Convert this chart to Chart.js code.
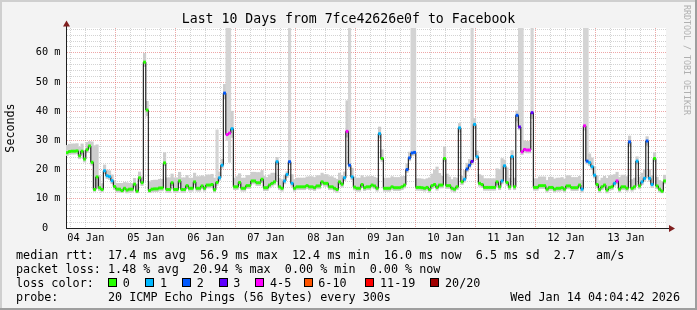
<!DOCTYPE html>
<html>
<head>
<meta charset="utf-8">
<script src="https://cdn.jsdelivr.net/npm/chart.js@4.4.1/dist/chart.umd.min.js"></script>
<style>
html,body{margin:0;padding:0;background:#f3f3f3;}
canvas{display:block;}
</style>
</head>
<body>
<canvas id="c" width="697" height="310"></canvas>
<script>
// ---------------- data ----------------
const chartTitle = 'Last 10 Days from 7fce42626e0f to Facebook';
const yAxisTitle = 'Seconds';
// time axis in hours after 04 Jan 00:00
const rangeStart = 4.07;          // 04 Jan 04:04
const rangeEnd = 244.07;          // 14 Jan 04:04
const firstSample = 4.5;          // centre of first hourly sample
const sampleStep = 1;             // hours per sample
const dayLabels = ['04 Jan','05 Jan','06 Jan','07 Jan','08 Jan','09 Jan','10 Jan','11 Jan','12 Jan','13 Jan'];
const yTickValues = [0,2,4,6,8,10,12,14,16,18,20,22,24,26,28,30,32,34,36,38,40,42,44,46,48,50,52,54,56,58,60,62,64,66,68];
const yMax = 68.5;

// median rtt (ms), hourly
const median = [
25.8,26.2,26.3,26.3,26.4,24.7,26.3,23.6,26.8,28.1,22.5,13.2,17.5,13.8,13.2,19.6,17.9,17.6,16.2,14.2,
13.3,13.3,12.8,13.6,13.0,13.3,13.3,15.0,12.6,17.2,15.5,56.8,40.4,12.8,13.3,13.4,13.4,13.7,13.7,22.3,
13.2,13.2,15.5,13.2,13.2,16.1,13.2,13.2,14.5,13.6,13.6,15.8,13.6,13.6,14.4,13.6,14.7,14.7,14.9,13.1,
15.6,17.2,21.5,46.2,32.0,32.5,34.0,14.1,14.1,15.6,13.6,13.6,14.5,14.5,16.1,16.1,15.5,15.5,16.7,13.8,
13.8,14.7,15.3,15.8,22.7,14.1,13.6,16.1,18.3,22.7,15.3,13.6,14.1,14.1,14.1,14.1,14.5,14.1,14.1,13.8,
14.4,14.4,15.8,15.3,15.3,14.1,14.1,13.6,13.2,15.8,15.0,17.2,33.1,21.5,17.5,14.0,13.6,13.6,14.9,13.8,
14.1,14.1,14.7,14.4,13.6,32.3,23.8,13.6,13.6,13.6,14.1,13.8,13.8,13.8,14.1,14.7,20.0,24.0,25.7,25.9,
13.9,13.9,13.8,13.6,13.9,13.2,14.5,14.9,13.9,14.7,14.7,23.8,14.5,14.5,13.6,13.3,14.1,34.3,15.8,16.7,
20.2,21.5,22.8,35.5,24.4,15.3,14.9,13.9,13.9,13.9,13.9,13.9,15.8,14.1,16.1,21.3,15.6,14.1,24.5,14.1,
38.6,34.6,26.1,26.9,26.7,26.7,39.5,13.9,13.9,14.5,14.5,14.5,13.3,13.9,13.9,13.3,13.6,13.6,13.8,13.3,
14.4,14.4,13.8,13.8,13.8,14.7,13.3,35.0,22.9,22.4,21.0,18.1,14.9,13.2,14.1,14.7,13.0,13.9,14.1,15.3,
16.1,13.3,14.1,14.1,13.6,29.5,13.6,14.1,22.9,14.4,15.8,17.0,29.8,17.0,14.9,23.8,14.4,13.3,12.6,16.1
];

// pings lost (of 20) per sample
const lossCount = [
0,0,0,0,0,0,0,0,0,0,0,0,0,0,0,1,1,1,1,0,
0,0,0,0,0,0,0,0,0,0,0,0,0,0,0,0,0,0,0,0,
0,0,0,0,0,0,0,0,0,0,0,0,0,0,0,0,0,0,0,0,
0,1,1,2,4,4,1,0,0,0,0,0,0,0,0,0,0,0,0,0,
0,0,0,0,1,0,0,1,1,2,1,0,0,0,0,0,0,0,0,0,
0,0,0,0,0,0,0,0,0,0,0,1,4,2,1,0,0,0,0,0,
0,0,0,0,0,1,0,0,0,0,0,0,0,0,0,0,2,2,2,2,
0,0,0,0,0,0,0,0,0,0,0,0,0,0,0,0,0,1,0,1,
2,2,3,1,1,0,0,0,0,0,0,0,0,0,1,1,0,0,1,0,
2,3,4,4,4,4,3,0,0,0,0,0,0,0,0,0,0,0,0,0,
0,0,0,0,0,0,1,4,2,1,1,1,0,0,0,0,0,0,0,1,
4,0,0,0,0,2,0,0,1,0,1,1,2,1,1,0,0,0,0,0
];

// smoke extent above / below the median (ms)
const smokeUp = [
2.5,2.5,2.5,2.5,2.5,3,2.5,3,2.5,1.5,7,15,11,4,2,2,2,2,2,2,
2,2,2.5,2,2.5,2,2,2,2.5,2,2,3,3,3,3,3,3,3,3,3.5,
4,4,3,4,4,3,4,4,3.5,3.5,3.5,3,4,4,3.5,4,3.5,3.5,3.5,4,
18,2,2,3,40,40,6,3,3.5,3,3.5,3.5,3.5,3.5,3,3,3.5,3.5,3,4,
3.5,3.5,3.5,3,1.5,3,3,2,1,46,3,3,3,3,3,3,3,3.5,3.5,3.5,
3.5,3.5,3,3,3,3.5,3.5,3.5,3.5,3,3,2,10.5,47,3,3.5,3.5,3.5,3,3.5,
3.5,3.5,3,3,3.5,2.3,3,3.5,3.5,3.5,3.5,3.5,3.5,3.5,3.5,3,2,2,44,44,
3,3,3,3,3,4,4,5,7,4,3,4,4,3,3,4,3,1.5,2,3,
2,2,47,2,2,3,3,3,3,3,3,3,4.5,6,7.7,2,5,3,2,3,
1.5,36,44,3,3,3,31,3,3,3,3,3,3,3.5,3.5,3.5,3.5,3.5,3.5,3.5,
3.5,3.5,3.5,3.5,3.5,3,3,35,47,3,3,3,3,3,3,3,4,4,4,3,
3,4,4,4,4,2,3,3,1.5,3,3,3,1.5,3,3,2,3,3,3,2
];
const smokeDown = [
1,1,1,1,1,1,1,1,1,1,1,0.7,4,1,0.8,1,1,1,1,1,
1,1,0.6,1,1,1,1,1,0.6,1,1,1.5,2,0.6,1,1,1,1,1,1,
1,1,1,1,1,1,1,1,1,1,1,1,1,1,1,1,1,1,1,0.8,
1,1,1,2,2,10,3,1,1,1,1,1,1,1,1,1,1,1,1,1,
1,1,1,1,1,1,1,1,1,1,1,1,1,1,1,1,1,1,1,1,
1,1,1,1,1,1,1,1,1,1,1,1,2,1,1,1,1,1,1,1,
1,1,1,1,1,1.5,1,1,1,1,1,1,1,1,1,1,1,1,1,1,
1,1,1,1,1,1,1,1,1,1,1,1,1,1,1,1,1,1.5,1,1,
1,1,1,1.5,1,1,1,1,1,1,1,1,1,1,1,1,1,1,1,1,
2,1,1,1,1,1,2,1,1,1,1,1,1,1,1,1,1,1,1,1,
1,1,1,1,1,1,1,1.5,1,1,1,1,1,1,1,1,1,1,1,1,
1,1,1,1,1,1.5,1,1,1,1,1,1,1.5,1,1,1,1,1,0.6,1
];

// loss colour legend
const lossLabels = ['0','1','2','3','4-5','6-10','11-19','20/20'];
const lossUpper  = [0,1,2,3,5,10,19,20];
const lossColors = ['#26ff00','#00b8ff','#0059ff','#5e00ff','#ff00ff','#ff5500','#ff0000','#a00000'];

// legend text
const statRows = [
  'median rtt:  17.4 ms avg  56.9 ms max  12.4 ms min  16.0 ms now  6.5 ms sd  2.7   am/s',
  'packet loss: 1.48 % avg  20.94 % max  0.00 % min  0.00 % now'
];
const lossRowTitle = 'loss color:';
const probeRow = 'probe:       20 ICMP Echo Pings (56 Bytes) every 300s';
const stampText = 'Wed Jan 14 04:04:42 2026';
const watermark = 'RRDTOOL / TOBI OETIKER';

// ---------------- layout / style ----------------
const FONT = "'DejaVu Sans Mono', 'Liberation Mono', monospace";
const lossLabelX = [122.7, 160, 196.7, 233.3, 270, 318.3, 380, 445];
const rowBase = [258.5, 272.6, 286.7, 300.5];

function lossColor(n) {
  for (let k = 0; k < lossUpper.length; k++) if (n <= lossUpper[k]) return lossColors[k];
  return lossColors[lossColors.length - 1];
}

const xTicks = [];
for (let h = 6; h <= 240; h += 6) xTicks.push(h);

const medianData = median.map((v, i) => ({x: firstSample + i * sampleStep, y: v}));
const smokeData = median.map((v, i) => ({x: firstSample + i * sampleStep, y: [v - smokeDown[i], v + smokeUp[i]]}));
const pointColors = lossCount.map(lossColor);

const bgPlugin = {
  id: 'rrdBg',
  beforeDraw(chart) {
    const c = chart.ctx, a = chart.chartArea, W = chart.width, H = chart.height;
    c.save();
    c.fillStyle = '#f3f3f3';
    c.fillRect(0, 0, W, H);
    c.fillStyle = '#cfcfcf';
    c.fillRect(0, 0, W, 2);
    c.fillRect(0, 0, 2, H);
    c.fillStyle = '#9e9e9e';
    c.fillRect(0, H - 2, W, 2);
    c.fillRect(W - 2, 0, 2, H);
    c.fillStyle = '#ffffff';
    c.fillRect(a.left, a.top, a.right - a.left, a.bottom - a.top);
    c.restore();
  }
};

const decoPlugin = {
  id: 'rrdDeco',
  afterDraw(chart) {
    const c = chart.ctx, a = chart.chartArea;
    c.save();
    // axis extensions + arrows
    c.strokeStyle = '#1f1f1f';
    c.lineWidth = 1;
    c.beginPath();
    c.moveTo(a.right, a.bottom + 0.5); c.lineTo(670, a.bottom + 0.5);
    c.moveTo(a.left + 0.5, a.top); c.lineTo(a.left + 0.5, 25);
    c.stroke();
    c.fillStyle = '#801f1f';
    c.beginPath();
    c.moveTo(669, a.bottom + 0.5 - 3.5); c.lineTo(675, a.bottom + 0.5); c.lineTo(669, a.bottom + 0.5 + 3.5);
    c.closePath(); c.fill();
    c.beginPath();
    c.moveTo(a.left + 0.5 - 3.5, 26.5); c.lineTo(a.left + 0.5, 20.5); c.lineTo(a.left + 0.5 + 3.5, 26.5);
    c.closePath(); c.fill();

    // legend text
    c.fillStyle = '#000';
    c.font = '11.76px ' + FONT;
    c.textBaseline = 'alphabetic';
    c.textAlign = 'left';
    c.fillText(statRows[0], 16, rowBase[0]);
    c.fillText(statRows[1], 16, rowBase[1]);
    c.fillText(lossRowTitle, 16, rowBase[2]);
    for (let k = 0; k < lossLabels.length; k++) {
      const bx = Math.round(lossLabelX[k] - 14.7);
      const by = 278;
      c.fillStyle = lossColors[k];
      c.fillRect(bx, by, 9, 9);
      c.strokeStyle = '#000';
      c.lineWidth = 1;
      c.strokeRect(bx + 0.5, by + 0.5, 8, 8);
      c.fillStyle = '#000';
      c.fillText(lossLabels[k], lossLabelX[k], rowBase[2]);
    }
    c.fillText(probeRow, 16, rowBase[3]);
    c.textAlign = 'right';
    c.fillText(stampText, 680, rowBase[3]);

    // watermark
    c.translate(686.5, 60);
    c.rotate(Math.PI / 2);
    c.textAlign = 'center';
    c.textBaseline = 'middle';
    c.fillStyle = '#b0b0b0';
    c.font = '8.3px ' + FONT;
    c.fillText(watermark, 0, 0);
    c.restore();
  }
};

const minorGrid = 'rgba(140,140,140,0.38)';
const majorGrid = 'rgba(222,80,80,0.5)';

new Chart(document.getElementById('c').getContext('2d'), {
  type: 'line',
  data: {
    datasets: [
      {
        type: 'line',
        label: 'median rtt',
        data: medianData,
        stepped: 'middle',
        borderColor: '#000',
        borderWidth: 1,
        pointStyle: 'line',
        pointRadius: 1.35,
        pointHoverRadius: 0,
        pointBorderWidth: 3,
        pointBorderColor: pointColors,
        pointBackgroundColor: pointColors,
        order: 0
      },
      {
        type: 'bar',
        label: 'smoke',
        data: smokeData,
        backgroundColor: (ctx) => (smokeUp[ctx.dataIndex] > 15 ? '#d4d4d4' : '#cdcdcd'),
        borderWidth: 0,
        barPercentage: 1,
        categoryPercentage: 1,
        order: 1
      }
    ]
  },
  options: {
    responsive: false,
    animation: false,
    devicePixelRatio: 1,
    events: [],
    layout: {autoPadding: false, padding: 0},
    plugins: {
      legend: {display: false},
      tooltip: {enabled: false},
      title: {
        display: true,
        text: chartTitle,
        color: '#000',
        font: {family: FONT, size: 13.2, weight: 'normal', lineHeight: '16px'},
        padding: {top: 12, bottom: 0}
      }
    },
    scales: {
      x: {
        type: 'linear',
        min: rangeStart,
        max: rangeEnd,
        offset: false,
        afterBuildTicks: (s) => { s.ticks = xTicks.map(v => ({value: v})); },
        afterFit: (s) => { s.height = 82; },
        grid: {
          color: (ctx) => (ctx.tick && ctx.tick.value % 24 === 0 ? majorGrid : minorGrid),
          lineWidth: 1,
          drawTicks: false,
          offset: false
        },
        border: {display: true, color: '#1f1f1f', width: 1, dash: [1, 1]},
        ticks: {
          autoSkip: false,
          maxRotation: 0,
          minRotation: 0,
          padding: 4.5,
          color: '#000',
          font: {family: FONT, size: 10.25},
          callback: (v) => {
            const h = Number(v);
            if ((h - 12) % 24 !== 0) return '';
            const d = (h - 12) / 24;
            return dayLabels[d] || '';
          }
        }
      },
      y: {
        min: 0,
        max: yMax,
        position: 'left',
        afterBuildTicks: (s) => { s.ticks = yTickValues.map(v => ({value: v})); },
        afterFit: (s) => { s.width = 66; },
        grid: {
          color: (ctx) => (ctx.tick && ctx.tick.value % 10 === 0 ? majorGrid : minorGrid),
          lineWidth: 1,
          drawTicks: false
        },
        border: {display: true, color: '#1f1f1f', width: 1, dash: [1, 1]},
        ticks: {
          autoSkip: false,
          padding: 5.5,
          color: '#000',
          font: {family: FONT, size: 10.25},
          callback: (v) => {
            const n = Number(v);
            if (n % 10 !== 0) return '';
            return n === 0 ? '0  ' : n + ' m';
          }
        },
        title: {
          display: true,
          text: yAxisTitle,
          color: '#000',
          font: {family: FONT, size: 11.7, weight: 'normal'},
          padding: {top: 4, bottom: 0}
        }
      },
      yRight: {
        position: 'right',
        display: true,
        min: 0,
        max: 1,
        afterFit: (s) => { s.width = 31; },
        grid: {display: false, drawOnChartArea: false},
        border: {display: false},
        ticks: {display: false}
      }
    }
  },
  plugins: [bgPlugin, decoPlugin]
});
</script>
</body>
</html>
